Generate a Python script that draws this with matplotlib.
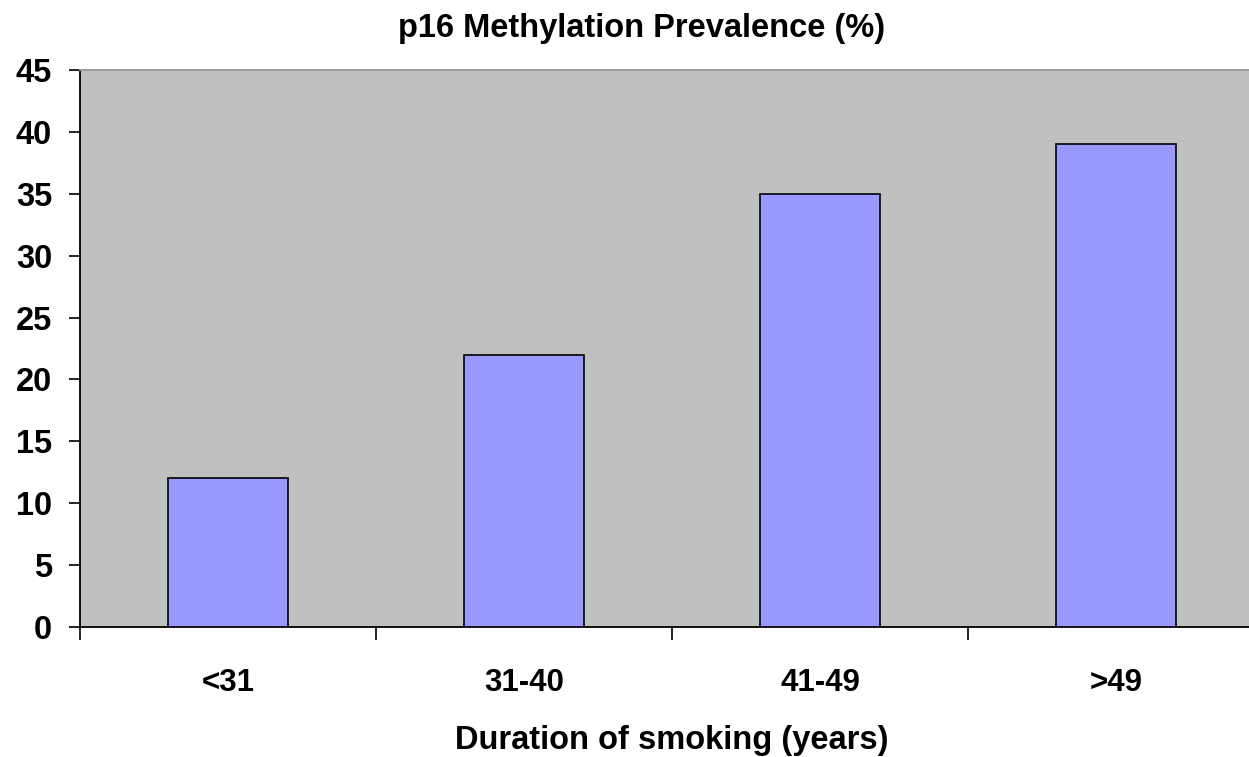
import matplotlib
matplotlib.use("Agg")
import matplotlib.pyplot as plt

categories = ["<31", "31-40", "41-49", ">49"]
prevalence = [12, 22, 35, 39]
y_ticks = [0, 5, 10, 15, 20, 25, 30, 35, 40, 45]

plt.rcParams["font.family"] = ["Liberation Sans", "DejaVu Sans"]
plt.rcParams["font.weight"] = "bold"

W, H = 1249, 757
fig = plt.figure(figsize=(W / 100, H / 100), dpi=100)
left, right, top, bottom = 80, 1264, 70, 627
ax = fig.add_axes([left / W, 1 - bottom / H, (right - left) / W, (bottom - top) / H])
ax.set_facecolor("#C0C0C0")

x = list(range(len(categories)))
ax.bar(x, prevalence, width=0.405, color="#9999FF", edgecolor="black", linewidth=1.2, zorder=3)

ax.set_xlim(-0.5, len(categories) - 0.5)
ax.set_ylim(0, 45)
ax.set_yticks(y_ticks)
ax.set_yticklabels([str(v) for v in y_ticks], fontsize=23.5, fontweight="bold")

# category labels centred under bars, tick marks between categories
ax.set_xticks([i - 0.5 for i in range(len(categories) + 1)])
ax.set_xticklabels([])
ax.tick_params(axis="x", direction="out", length=9, width=1.2, color="black")
ax.tick_params(axis="y", direction="out", length=8, width=1.2, color="black", pad=12)
for i, c in enumerate(categories):
    ax.text(i, -0.1, c, transform=ax.get_xaxis_transform(), ha="center", va="center",
            fontsize=22.5, fontweight="bold")

for s in ["left", "bottom"]:
    ax.spines[s].set_color("black")
    ax.spines[s].set_linewidth(1.3)
ax.spines["right"].set_visible(False)
ax.spines["top"].set_color("#969696")
ax.spines["top"].set_linewidth(1.3)

fig.text(642 / W, 1 - 28 / H, "p16 Methylation Prevalence (%)", ha="center", va="center",
         fontsize=23.5, fontweight="bold")
fig.text(672 / W, 1 - 741 / H, "Duration of smoking (years)", ha="center", va="center",
         fontsize=23.5, fontweight="bold")

fig.savefig("out.png", dpi=100)
